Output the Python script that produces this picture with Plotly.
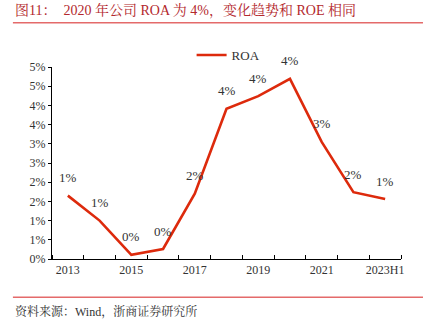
import plotly.graph_objects as go

categories = ["2013", "2014", "2015", "2016", "2017", "2018", "2019", "2020", "2021", "2022", "2023H1"]
roa = [1.65, 1.00, 0.11, 0.26, 1.70, 3.91, 4.24, 4.69, 3.05, 1.74, 1.56]
roa_labels = ["1%", "1%", "0%", "0%", "2%", "4%", "4%", "4%", "3%", "2%", "1%"]
y_tickvals = [0, 0.5, 1.0, 1.5, 2.0, 2.5, 3.0, 3.5, 4.0, 4.5, 5.0]
y_ticktext = ["0%", "1%", "1%", "2%", "2%", "3%", "3%", "4%", "4%", "5%", "5%"]

title_text = "图11：  2020 年公司 ROA 为 4%，变化趋势和 ROE 相同"
source_text = "资料来源：Wind，浙商证券研究所"

SERIF = "Liberation Serif, Noto Serif CJK SC, Noto Sans CJK SC, serif"
LINE_RED = "#DD2A0C"
TITLE_RED = "#B3282D"

idx = list(range(len(categories)))

fig = go.Figure()
fig.add_trace(go.Scatter(
    x=idx, y=roa, mode="lines", name="ROA",
    line=dict(color=LINE_RED, width=2.6),
))

annotations = []
for i, v, t in zip(idx, roa, roa_labels):
    annotations.append(dict(x=i, y=v, text=t, showarrow=False, yshift=18,
                            font=dict(family=SERIF, size=13, color="#333333")))

annotations.append(dict(xref="paper", yref="paper", x=-0.112, y=1.292, xanchor="left", yanchor="middle",
                        text=title_text, showarrow=False,
                        font=dict(family=SERIF, size=14, color=TITLE_RED)))
annotations.append(dict(xref="paper", yref="paper", x=-0.112, y=-0.2745, xanchor="left", yanchor="middle",
                        text=source_text, showarrow=False,
                        font=dict(family=SERIF, size=12, color="#333333")))

shapes = [
    dict(type="line", xref="paper", yref="paper", x0=-0.112, x1=1.063, y0=1.2307, y1=1.2307,
         line=dict(color="#E46A6A", width=1.5)),
    dict(type="line", xref="paper", yref="paper", x0=-0.112, x1=1.063, y0=-0.1995, y1=-0.1995,
         line=dict(color="#E46A6A", width=1.5)),
]

fig.update_layout(
    width=437, height=330,
    margin=dict(l=52, r=36, t=67, b=71),
    paper_bgcolor="white", plot_bgcolor="white",
    showlegend=True,
    legend=dict(x=0.4, y=1.0625, xanchor="left", yanchor="middle", orientation="h",
                font=dict(family=SERIF, size=13, color="#333333"),
                bgcolor="rgba(0,0,0,0)"),
    annotations=annotations,
    shapes=shapes,
    xaxis=dict(
        range=[-0.5, 10.5], tickmode="array", tickvals=idx[::2], ticktext=categories[::2],
        showline=True, linecolor="#000000", linewidth=1, showgrid=False, zeroline=False,
        ticks="", tickfont=dict(family=SERIF, size=12, color="#333333"),
        minor=dict(tickmode="array", tickvals=[i - 0.5 for i in range(len(categories) + 1)],
                   ticks="inside", ticklen=4, tickcolor="#000000", showgrid=False),
    ),
    yaxis=dict(
        range=[0, 5], tickmode="array", tickvals=y_tickvals, ticktext=y_ticktext,
        showline=True, linecolor="#000000", linewidth=1, showgrid=False, zeroline=False,
        ticks="outside", ticklen=3, tickcolor="#000000",
        tickfont=dict(family=SERIF, size=12, color="#333333"),
    ),
)

fig.write_html("out.html")
